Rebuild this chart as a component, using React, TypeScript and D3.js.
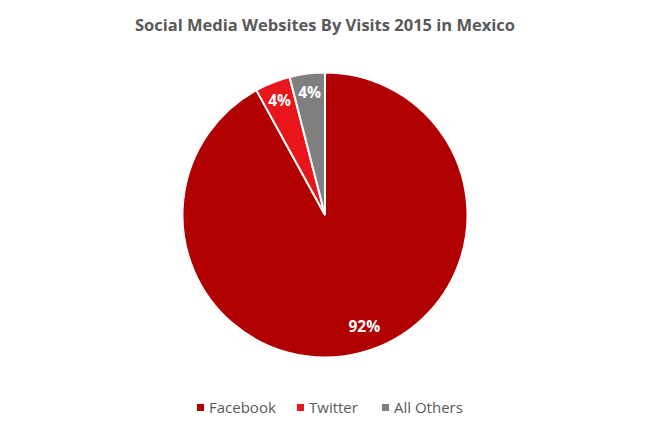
import React from 'react';
import * as d3 from 'd3';

const categories = ['Facebook', 'Twitter', 'All Others'];
const shares = [92, 4, 4];
const colors = ['#B00000', '#E8161B', '#7F7F7F'];
const title = 'Social Media Websites By Visits 2015 in Mexico';

const width = 650;
const height = 431;
const cx = 325;
const cy = 215;
const radius = 142.5;
// Excel nudges the big label off the slice middle a little
const labelShiftDeg = [-5, 0, 0];

function App() {
  const pie = d3.pie<number>().sort(null).value(d => d);
  const arcs = pie(shares);
  const arc = d3.arc<d3.PieArcDatum<number>>().innerRadius(0).outerRadius(radius);

  const labelPos = (d: d3.PieArcDatum<number>, i: number) => {
    const r = (d.data > 50 ? 0.83 : 0.865) * radius;
    const a = (d.startAngle + d.endAngle) / 2 + (labelShiftDeg[i] * Math.PI) / 180;
    return [Math.sin(a) * r, -Math.cos(a) * r];
  };

  const legendX = [197, 297, 382];

  return (
    <svg width={width} height={height} style={{position: 'absolute', left: 0, top: 0, background: '#fff'}}
      fontFamily="'Open Sans', sans-serif">
      <text x={cx} y={31} textAnchor="middle" fontSize={16.5} fontWeight="bold" fill="#595959">
        {title}
      </text>
      <g transform={`translate(${cx},${cy})`}>
        {arcs.map((d, i) => (
          <path key={categories[i]} d={arc(d) || ''} fill={colors[i]} stroke="#fff" strokeWidth={2} />
        ))}
        {arcs.map((d, i) => {
          const [x, y] = labelPos(d, i);
          return (
            <text key={'l' + i} x={x} y={y} dy="0.35em" textAnchor="middle" fontSize={15.5}
              fontWeight="bold" fill="#fff">
              {shares[i]}%
            </text>
          );
        })}
      </g>
      <g>
        {categories.map((c, i) => (
          <g key={c} transform={`translate(${legendX[i]},408)`}>
            <rect x={0} y={-4} width={7} height={7} fill={colors[i]} />
            <text x={12} y={0} dy="0.35em" fontSize={15} fill="#595959">{c}</text>
          </g>
        ))}
      </g>
    </svg>
  );
}

export default App;
